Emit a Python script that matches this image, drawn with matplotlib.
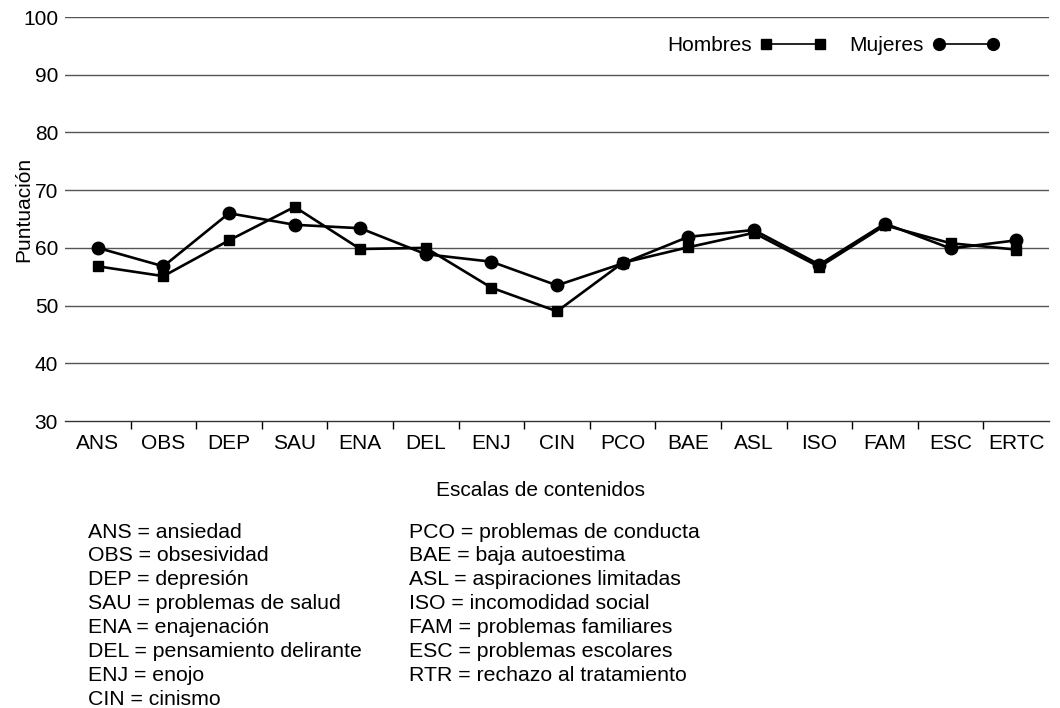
import matplotlib
matplotlib.use("Agg")
import matplotlib.pyplot as plt
from matplotlib.lines import Line2D
import numpy as np

plt.rcParams['font.family'] = ['Liberation Sans', 'DejaVu Sans']

categorias = ["ANS", "OBS", "DEP", "SAU", "ENA", "DEL", "ENJ", "CIN",
              "PCO", "BAE", "ASL", "ISO", "FAM", "ESC", "ERTC"]
hombres = [56.8, 55.1, 61.3, 67.1, 59.8, 60.0, 53.1, 49.0,
           57.4, 60.1, 62.6, 56.7, 63.9, 60.8, 59.7]
mujeres = [60.0, 56.8, 66.0, 64.0, 63.4, 58.9, 57.6, 53.5,
           57.3, 61.9, 63.1, 57.1, 64.2, 59.9, 61.3]
y_ticks = [30, 40, 50, 60, 70, 80, 90, 100]

descr_izq = ["ANS = ansiedad", "OBS = obsesividad", "DEP = depresión",
             "SAU = problemas de salud", "ENA = enajenación",
             "DEL = pensamiento delirante", "ENJ = enojo", "CIN = cinismo"]
descr_der = ["PCO = problemas de conducta", "BAE = baja autoestima",
             "ASL = aspiraciones limitadas", "ISO = incomodidad social",
             "FAM = problemas familiares", "ESC = problemas escolares",
             "RTR = rechazo al tratamiento"]

W, H = 1060, 708
fig = plt.figure(figsize=(W / 100, H / 100), dpi=100)
ax = fig.add_axes([65 / W, 1 - 421 / H, (1049 - 65) / W, (421 - 17) / H])

x = np.arange(len(categorias))
ax.plot(x, hombres, color='black', lw=1.9, marker='s', ms=6.8, zorder=3)
ax.plot(x, mujeres, color='black', lw=1.9, marker='o', ms=9.0, zorder=3)

ax.set_xlim(-0.5, len(categorias) - 0.5)
ax.set_ylim(30, 100)
ax.set_yticks(y_ticks)
ax.set_yticklabels([str(v) for v in y_ticks], fontsize=15)
ax.set_xticks(x)
ax.set_xticklabels(categorias, fontsize=15)
ax.set_xticks(np.arange(0.5, len(categorias) - 1, 1.0), minor=True)
ax.tick_params(axis='x', which='major', length=0, pad=9)
ax.tick_params(axis='x', which='minor', length=6, width=1, direction='out', color='black')
ax.tick_params(axis='y', length=0, pad=5)

for v in y_ticks[1:]:
    ax.axhline(v, color='#555555', lw=1.0, zorder=1)
for s in ['left', 'right', 'top']:
    ax.spines[s].set_visible(False)
ax.spines['bottom'].set_color('#333333')
ax.spines['bottom'].set_linewidth(1.0)

h1 = Line2D([0], [0], color='black', lw=1.2, marker='s', ms=6.5)
h2 = Line2D([0], [0], color='black', lw=1.2, marker='o', ms=8.5)
leg = ax.legend([h1, h2], ["Hombres", "Mujeres"], loc='upper right',
                bbox_to_anchor=(999 / W, 1 - 36 / H), bbox_transform=fig.transFigure,
                ncol=2, markerfirst=False, numpoints=2, frameon=False,
                fontsize=15, handlelength=3.2, handletextpad=0.4,
                columnspacing=1.1, borderpad=0, borderaxespad=0)

fig.text(24 / W, 1 - 209 / H, "Puntuación", rotation=90, fontsize=15,
         ha='center', va='center')
fig.text(541 / W, 1 - 490 / H, "Escalas de contenidos", fontsize=15,
         ha='center', va='center')

for i, t in enumerate(descr_izq):
    fig.text(88 / W, 1 - (532 + 23.9 * i) / H, t, fontsize=15.3, ha='left', va='center')
for i, t in enumerate(descr_der):
    fig.text(409 / W, 1 - (532 + 23.9 * i) / H, t, fontsize=15.3, ha='left', va='center')

fig.savefig("out.png", dpi=100)
